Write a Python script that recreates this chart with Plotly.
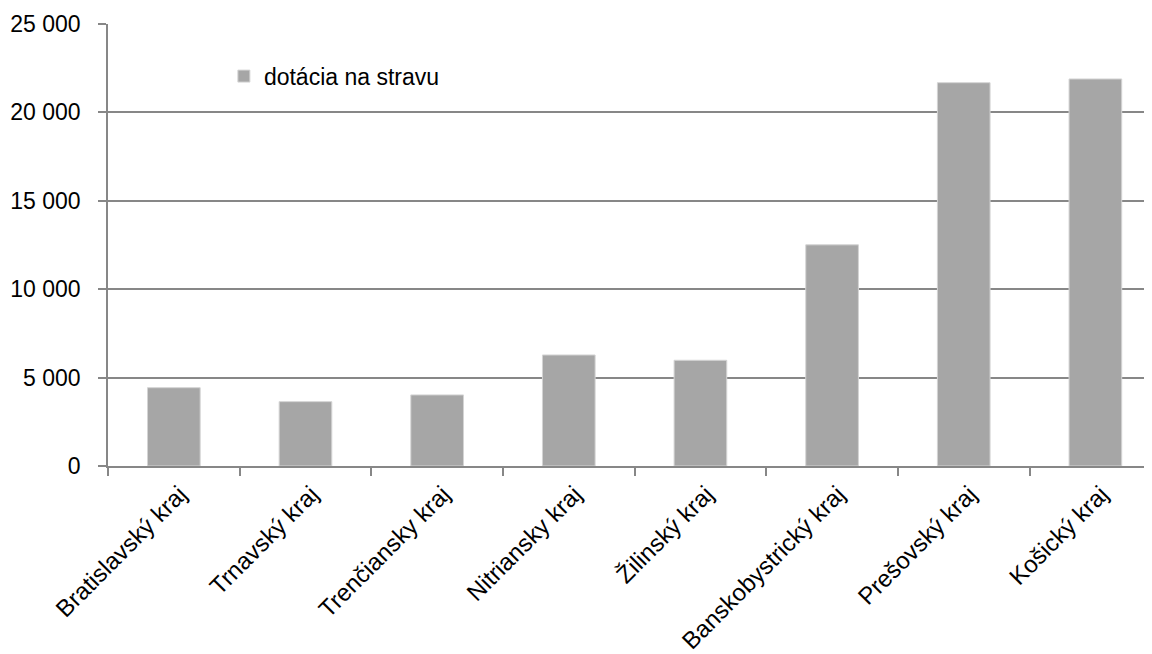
import plotly.graph_objects as go

# Dotácia na stravu podľa krajov
KRAJE = [
    "Bratislavský kraj",
    "Trnavský kraj",
    "Trenčiansky kraj",
    "Nitriansky kraj",
    "Žilinský kraj",
    "Banskobystrický kraj",
    "Prešovský kraj",
    "Košický kraj",
]
DOTACIA = [4430, 3640, 4020, 6280, 5980, 12510, 21680, 21890]
SERIES_NAME = "dotácia na stravu"

FONT = "Liberation Sans, Arial, sans-serif"
GRID = "#878787"
BAR = "#a6a6a6"

fig = go.Figure()
fig.add_trace(go.Bar(
    x=KRAJE, y=DOTACIA, name=SERIES_NAME, width=0.4,
    marker=dict(color=BAR, line=dict(color="#d4d4d4", width=1)),
    showlegend=True,
))

# stránka má 8px okraj, preto sú okraje posunuté
fig.update_layout(
    width=1152, height=654,
    paper_bgcolor="white", plot_bgcolor="white",
    font=dict(family=FONT, size=23, color="black"),
    separators=", ",
    margin=dict(l=100, r=8, t=16, b=196),
    showlegend=True,
    legend=dict(x=0.111, y=0.882, xanchor="left", yanchor="middle",
                bgcolor="rgba(0,0,0,0)", font=dict(size=23)),
    bargap=0.6,
)
fig.update_xaxes(
    range=[-0.5, 7.43], tickangle=-45, tickson="boundaries",
    ticks="outside", ticklen=8, tickcolor=GRID, tickwidth=1.5,
    showline=True, linecolor=GRID, linewidth=1.5,
    showgrid=False, tickfont=dict(size=24), automargin=False,
    ticklabelshift=6, ticklabelstandoff=3,
)
fig.update_yaxes(
    range=[0, 25000], tickvals=[0, 5000, 10000, 15000, 20000, 25000],
    tickformat=",d", ticks="outside", ticklen=8, tickcolor=GRID, tickwidth=1.5,
    showline=True, linecolor=GRID, linewidth=1.5,
    showgrid=True, gridcolor=GRID, gridwidth=1.5, zeroline=False,
    ticklabelstandoff=13, tickfont=dict(size=23), automargin=False,
)

fig.write_html("out.html")
